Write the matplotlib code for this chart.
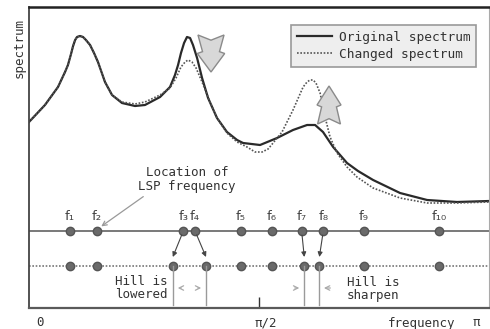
import numpy as np
import matplotlib.pyplot as plt
from matplotlib.patches import Polygon

# frequency axis in radians (0 .. pi), spectrum level in arbitrary units
freq_orig = [0.000, 0.109, 0.198, 0.246, 0.266, 0.287, 0.301, 0.315, 0.328, 0.348,
             0.369, 0.389, 0.417, 0.444, 0.471, 0.519, 0.567, 0.635, 0.724, 0.792,
             0.895, 0.963, 0.997, 1.018, 1.038, 1.059, 1.079, 1.100, 1.120, 1.148,
             1.182, 1.223, 1.284, 1.352, 1.421, 1.462, 1.578, 1.694, 1.803, 1.899,
             1.954, 2.008, 2.077, 2.172, 2.247, 2.350, 2.534, 2.719, 2.923, 3.142]
spec_orig = [18.6, 20.3, 22.1, 23.6, 24.3, 25.4, 26.2, 26.8, 27.1, 27.2,
             27.1, 26.8, 26.3, 25.5, 24.6, 22.6, 21.3, 20.5, 20.2, 20.3,
             21.1, 22.1, 23.3, 24.3, 25.5, 26.5, 27.1, 27.0, 26.3, 25.0,
             23.0, 21.0, 19.0, 17.6, 16.8, 16.5, 16.3, 17.0, 17.8, 18.3,
             18.3, 17.6, 16.1, 14.5, 13.7, 12.8, 11.5, 10.8, 10.6, 10.7]

freq_changed = [0.000, 0.109, 0.198, 0.246, 0.266, 0.287, 0.301, 0.315, 0.328, 0.348,
                0.369, 0.389, 0.417, 0.444, 0.471, 0.519, 0.567, 0.635, 0.724, 0.792,
                0.895, 0.963, 1.004, 1.038, 1.066, 1.086, 1.113, 1.141, 1.182, 1.236,
                1.284, 1.352, 1.421, 1.489, 1.544, 1.592, 1.633, 1.667, 1.728, 1.803,
                1.872, 1.899, 1.919, 1.940, 1.960, 1.988, 2.022, 2.056, 2.104, 2.172,
                2.240, 2.350, 2.534, 2.719, 2.923, 3.142]
spec_changed = [18.6, 20.3, 22.1, 23.6, 24.3, 25.4, 26.2, 26.8, 27.1, 27.2,
                27.1, 26.8, 26.3, 25.5, 24.6, 22.6, 21.3, 20.6, 20.4, 20.6,
                21.3, 22.0, 23.0, 24.1, 24.6, 24.8, 24.6, 24.0, 22.6, 20.6,
                19.0, 17.5, 16.6, 16.1, 15.6, 15.6, 15.9, 16.5, 17.6, 19.8,
                22.1, 22.6, 22.8, 22.8, 22.5, 21.5, 19.1, 17.1, 15.5, 14.1,
                13.1, 12.0, 11.0, 10.5, 10.5, 10.6]

lsp_names = ['f\u2081', 'f\u2082', 'f\u2083', 'f\u2084', 'f\u2085',
             'f\u2086', 'f\u2087', 'f\u2088', 'f\u2089', 'f\u2081\u2080']
lsp_orig = [0.280, 0.464, 1.054, 1.134, 1.446, 1.658, 1.862, 2.010, 2.288, 2.800]
lsp_changed = [0.280, 0.464, 0.982, 1.209, 1.446, 1.658, 1.880, 1.983, 2.288, 2.800]
moved = [2, 3, 6, 7]

mono = 'DejaVu Sans Mono'
txt = '#333333'

fig = plt.figure(figsize=(4.9, 3.29), dpi=100)
ax = fig.add_axes([29 / 490, 21 / 329, 460 / 490, 301 / 329])
ax.set_xlim(0, np.pi)
ax.set_ylim(0, 30.1)

ax.plot(freq_orig, spec_orig, color='#2a2a2a', lw=1.6, label='Original spectrum')
ax.plot(freq_changed, spec_changed, color='#555555', lw=1.2, ls=(0, (1, 1)),
        label='Changed spectrum')

# LSP rows
y_top, y_low = 7.7, 4.2
ax.axhline(y_top, color='#6e6e6e', lw=1.3)
ax.axhline(y_low, color='#777777', lw=1.2, ls=(0, (1, 1)))
ax.plot(lsp_orig, [y_top] * len(lsp_orig), 'o', ms=6, color='#6a6a6a', mec='#555555')
ax.plot(lsp_changed, [y_low] * len(lsp_changed), 'o', ms=6, color='#6a6a6a', mec='#555555')
for name, f in zip(lsp_names, lsp_orig):
    ax.text(f, 9.1, name, ha='center', va='center', fontsize=9.5, color='#444444')

for i in moved:
    ax.annotate('', xy=(lsp_changed[i], 5.1), xytext=(lsp_orig[i], y_top),
                arrowprops=dict(arrowstyle='-|>', color='#444444', lw=0.8,
                                mutation_scale=7, shrinkA=3, shrinkB=0))
    ax.plot([lsp_changed[i], lsp_changed[i]], [y_low, 0.3], color='#9a9a9a', lw=1)

# spreading / narrowing hints
hint = dict(arrowstyle='->', color='#aaaaaa', lw=0.9, mutation_scale=8)
ax.annotate('', xy=(0.997, 2.0), xytext=(1.059, 2.0), arrowprops=hint)
ax.annotate('', xy=(1.195, 2.0), xytext=(1.134, 2.0), arrowprops=hint)
ax.annotate('', xy=(1.865, 2.0), xytext=(1.796, 2.0), arrowprops=hint)
ax.annotate('', xy=(1.995, 2.0), xytext=(2.077, 2.0), arrowprops=hint)
ax.text(0.943, 2.0, 'Hill is\nlowered', ha='right', va='center', fontsize=9,
        family=mono, color=txt, linespacing=1.0)
ax.text(2.172, 1.9, 'Hill is\nsharpen', ha='left', va='center', fontsize=9,
        family=mono, color=txt, linespacing=1.0)

ax.text(1.079, 12.9, 'Location of\nLSP frequency', ha='center', va='center',
        fontsize=9, family=mono, color=txt, linespacing=1.1)
ax.annotate('', xy=(0.478, 8.0), xytext=(0.796, 11.3),
            arrowprops=dict(arrowstyle='->', color='#999999', lw=0.9, mutation_scale=8))


def block_arrow(xc, y_tail, y_tip, half_w):
    shape = [(-1, 0), (0, 0.14), (1, 0), (0.65, 0.45), (1.05, 0.5),
             (0, 1), (-1.05, 0.5), (-0.65, 0.45)]
    pts = [(xc + u * half_w, y_tail + v * (y_tip - y_tail)) for u, v in shape]
    ax.add_patch(Polygon(pts, closed=True, fc='#d8d8d8', ec='#8a8a8a', lw=1, zorder=3))


block_arrow(1.243, 27.3, 23.6, 0.089)
block_arrow(2.049, 18.4, 22.2, 0.078)

leg = ax.legend(loc='upper right', bbox_to_anchor=(0.972, 0.940), borderaxespad=0,
                prop={'family': mono, 'size': 9.3}, fancybox=False, framealpha=1,
                facecolor='#eeeeee', edgecolor='#999999', handlelength=2.7,
                handletextpad=0.5, labelspacing=0.3, borderpad=0.45)
leg.get_frame().set_linewidth(1.2)
for t in leg.get_texts():
    t.set_color(txt)

# axes frame and labels
ax.spines['top'].set_color('#222222')
ax.spines['top'].set_linewidth(1.8)
ax.spines['left'].set_color('#444444')
ax.spines['left'].set_linewidth(1.3)
ax.spines['bottom'].set_color('#5a5a5a')
ax.spines['bottom'].set_linewidth(1.6)
ax.spines['right'].set_color('#aaaaaa')
ax.spines['right'].set_linewidth(0.8)
ax.set_yticks([])
ax.set_xticks([np.pi / 2])
ax.set_xticklabels([])
ax.tick_params(axis='x', direction='in', length=8, width=1, color='#333333')

ax.text(0.075, -1.45, '0', ha='center', va='center', fontsize=9, family=mono, color=txt)
ax.text(1.619, -1.5, '\u03c0/2', ha='center', va='center', fontsize=9, family=mono, color=txt)
ax.text(2.678, -1.5, 'frequency', ha='center', va='center', fontsize=9, family=mono, color=txt)
ax.text(3.053, -1.5, '\u03c0', ha='center', va='center', fontsize=9, family=mono, color=txt)
ax.text(-0.068, 26.0, 'spectrum', ha='center', va='center', rotation=90,
        fontsize=9, family=mono, color=txt)

fig.savefig('out.png', dpi=100)
